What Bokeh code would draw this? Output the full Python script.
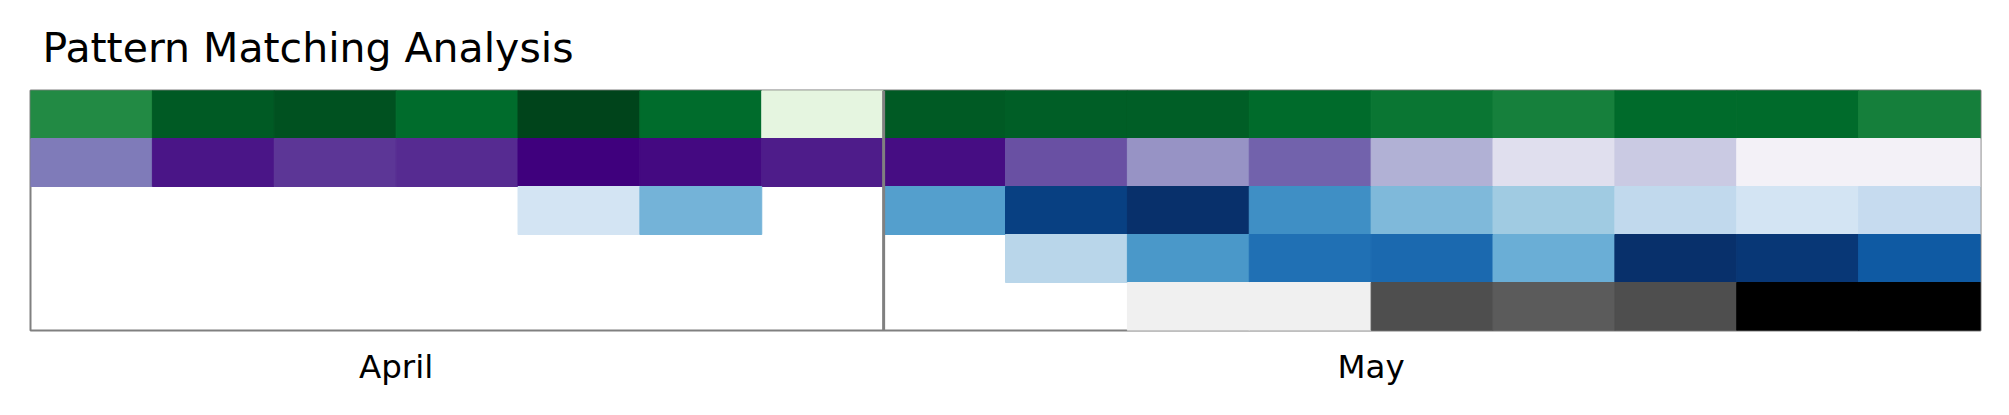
import numpy as np
from bokeh.plotting import figure
from bokeh.models import ColumnDataSource, LinearColorMapper, Span, FixedTicker
from bokeh.transform import transform
from bokeh.embed import file_html
from bokeh.resources import INLINE
from bokeh.palettes import Greens9, Purples9, Blues9, Greys9

# ---- data -------------------------------------------------------------
title_text = "Pattern Matching Analysis"
month_labels = ["April", "May"]
month_sizes = [7, 9]

# intensity per cell (0..1), None = empty cell
row_green = [0.75, 0.933, 0.96, 0.875, 1.0, 0.875, 0.125,
             0.93, 0.92, 0.92, 0.88, 0.838, 0.796, 0.88, 0.88, 0.80]
row_purple = [0.63, 0.93, 0.83, 0.86, 1.0, 0.97, 0.91,
              0.955, 0.75, 0.53, 0.70, 0.42, 0.215, 0.32, 0.086, 0.086]
row_blue_a = [None, None, None, None, 0.18, 0.48, None,
              0.57, 0.94, 1.0, 0.635, 0.45, 0.37, 0.266, 0.18, 0.25]
row_blue_b = [None, None, None, None, None, None, None,
              None, 0.29, 0.60, 0.75, 0.78, 0.50, 1.0, 0.97, 0.836]
row_grey = [None, None, None, None, None, None, None,
            None, None, 0.125, 0.125, 0.758, 0.716, 0.758, 1.0, 1.0]

rows = [row_green, row_purple, row_blue_a, row_blue_b, row_grey]
palettes9 = [Greens9, Purples9, Blues9, Blues9, Greys9]


def palette256(p9):
    cols = list(p9)[::-1]  # light -> dark
    rgb = np.array([[int(c[i:i + 2], 16) for i in (1, 3, 5)] for c in cols], float)
    xs = np.linspace(0, 1, len(cols))
    t = np.linspace(0, 1, 256)
    out = []
    for v in t:
        r = np.interp(v, xs, rgb[:, 0])
        g = np.interp(v, xs, rgb[:, 1])
        b = np.interp(v, xs, rgb[:, 2])
        out.append("#%02x%02x%02x" % (int(round(r)), int(round(g)), int(round(b))))
    return out


n_cols = sum(month_sizes)
n_rows = len(rows)

p = figure(width=2000, height=405, x_range=(0, n_cols), y_range=(0, n_rows),
           output_backend="svg", toolbar_location=None,
           min_border_left=30, min_border_right=20, min_border_top=90,
           min_border_bottom=75, y_axis_location=None, title=title_text)

for r, (vals, p9) in enumerate(zip(rows, palettes9)):
    xs = [i for i, v in enumerate(vals) if v is not None]
    vs = [v for v in vals if v is not None]
    src = ColumnDataSource(dict(
        left=xs, right=[x + 1 for x in xs],
        bottom=[n_rows - 1 - r] * len(xs), top=[n_rows - r] * len(xs),
        value=vs))
    mapper = LinearColorMapper(palette=palette256(p9), low=0, high=1, nan_color="white")
    p.quad(left="left", right="right", bottom="bottom", top="top", source=src,
           fill_color=transform("value", mapper),
           line_color=transform("value", mapper), line_width=1)

# panel divider
start = 0
ticks = []
for s in month_sizes:
    ticks.append(start + (s - 1) / 2)
    start += s
    if start < n_cols:
        p.add_layout(Span(location=start, dimension="height",
                          line_color="#808080", line_width=3))

p.xgrid.visible = False
p.ygrid.visible = False
p.outline_line_color = "#808080"
p.outline_line_width = 2
p.outline_line_alpha = 1

p.xaxis.ticker = FixedTicker(ticks=ticks)
p.xaxis.major_label_overrides = {t: l for t, l in zip(ticks, month_labels)}
p.xaxis.axis_line_color = None
p.xaxis.major_tick_line_color = None
p.xaxis.minor_tick_line_color = None
p.xaxis.major_label_text_font = "DejaVu Sans"
p.xaxis.major_label_text_font_size = "32.5px"
p.xaxis.major_label_text_color = "black"
p.xaxis.major_label_standoff = 11

p.title.text_font = "DejaVu Sans"
p.title.text_font_size = "41px"
p.title.text_font_style = "normal"
p.title.text_color = "black"
p.title.offset = 12
p.title.vertical_align = "bottom"
p.title.standoff = 37

p.background_fill_color = "white"
p.border_fill_color = "white"

open("out.html", "w").write(file_html(p, INLINE))
